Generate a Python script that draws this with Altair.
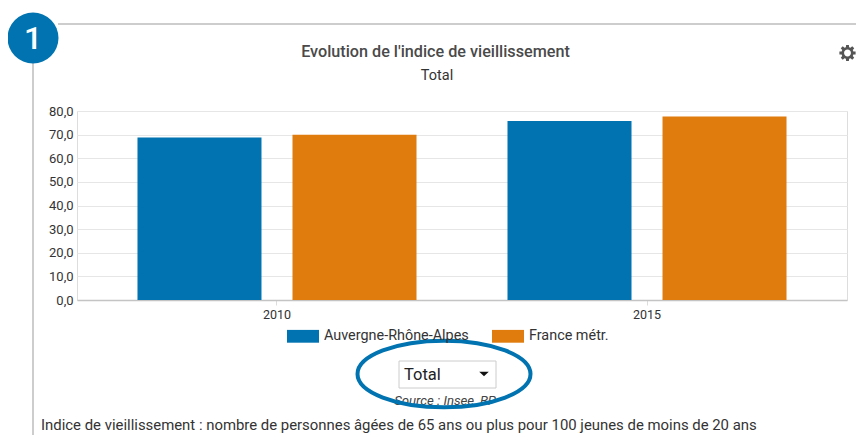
import math
import altair as alt
import pandas as pd

YEARS = ["2010", "2010", "2015", "2015"]
ZONES = ["Auvergne-Rhône-Alpes", "France métr.", "Auvergne-Rhône-Alpes", "France métr."]
VALUES = [68.8, 69.9, 75.8, 77.7]
BLUE = "#0073B0"
ORANGE = "#E07B0E"
FONT = "Roboto"
PL, PT = 77, 111  # plot-area origin in window pixels

df = pd.DataFrame({"annee": YEARS, "zone": ZONES, "valeur": VALUES})
one = pd.DataFrame({"a": [0]})


def px(v):
    return alt.value(v - PL)


def py(v):
    return alt.value(v - PT)


def label(txt, x, y, size=14, color="#333333", align="left", **kw):
    return alt.Chart(one).mark_text(
        text=txt, font=FONT, fontSize=size, color=color, align=align, baseline="middle", **kw
    ).encode(x=px(x), y=py(y))


def hline(x1, x2, y, color="#bdbdbd", w=1.5):
    return alt.Chart(one).mark_rule(color=color, strokeWidth=w).encode(x=px(x1), x2=px(x2), y=py(y))


def vline(x, y1, y2, color="#bdbdbd", w=1.5):
    return alt.Chart(one).mark_rule(color=color, strokeWidth=w).encode(x=px(x), y=py(y1), y2=py(y2))


def gear_path():
    teeth = 8
    pts = []
    for i in range(teeth):
        a = 2 * math.pi * i / teeth
        for da, r in ((-0.27, 0.74), (-0.17, 1.0), (0.17, 1.0), (0.27, 0.74)):
            pts.append((r * math.cos(a + da), r * math.sin(a + da)))
    outer = "M" + "L".join(f"{x:.3f},{y:.3f}" for x, y in pts) + "Z"
    hole = "M0.42,0A0.42,0.42,0,1,0,-0.42,0A0.42,0.42,0,1,0,0.42,0Z"
    return outer + hole


bars = alt.Chart(df).mark_bar().encode(
    x=alt.X(
        "annee:N",
        title=None,
        scale=alt.Scale(paddingInner=0, paddingOuter=0.0405),
        axis=alt.Axis(
            labelAngle=0, labelFont=FONT, labelFontSize=12.5, labelColor="#333333", labelPadding=3,
            domainColor="#c4c4c4", domainWidth=1.5, tickColor="#dddddd", tickSize=5, grid=False,
        ),
    ),
    xOffset=alt.XOffset("zone:N", scale=alt.Scale(paddingInner=0.2, paddingOuter=0.2935)),
    y=alt.Y(
        "valeur:Q",
        title=None,
        scale=alt.Scale(domain=[0, 80], nice=False),
        axis=alt.Axis(
            values=list(range(0, 81, 10)), labelExpr="replace(format(datum.value, '.1f'), '.', ',')",
            labelFont=FONT, labelFontSize=13, labelColor="#333333", labelPadding=4,
            domain=False, ticks=False, gridColor="#e6e6e6", grid=True,
        ),
    ),
    color=alt.Color(
        "zone:N",
        scale=alt.Scale(domain=["Auvergne-Rhône-Alpes", "France métr."], range=[BLUE, ORANGE]),
        legend=alt.Legend(
            title=None, orient="none", legendX=288 - PL - 1, legendY=320 - PT, direction="horizontal",
            columns=2, columnPadding=23, symbolType="M-1,-0.4H1V0.4H-1Z", symbolSize=1024,
            symbolStrokeWidth=0, labelFont=FONT, labelFontSize=14.4, labelColor="#333333",
            labelOffset=5, symbolOpacity=1,
        ),
    ),
)

badge = alt.Chart(one).mark_point(filled=True, color=BLUE, opacity=1, size=2600, shape="circle").encode(
    x=px(33), y=py(38)
)
oval = alt.Chart(one).mark_point(
    shape="M-1,0A1,0.385,0,1,1,1,0A1,0.385,0,1,1,-1,0Z", filled=False, stroke=BLUE, strokeWidth=4,
    opacity=1, size=29929,
).encode(x=px(444), y=py(374))
select_box = alt.Chart(one).mark_rect(fill="white", stroke="#cccccc", strokeWidth=1).encode(
    x=px(399), x2=px(496), y=py(361), y2=py(388)
)
caret = alt.Chart(one).mark_point(
    filled=True, color="#111111", opacity=1, shape="M-1,-0.5H1L0,0.5Z", size=90
).encode(x=px(484), y=py(374))
gear = alt.Chart(one).mark_point(filled=True, color="#555555", opacity=1, shape=gear_path(), size=270).encode(
    x=px(847.5), y=py(53)
)

chart = alt.layer(
    hline(58, 864, 24),
    vline(33, 60, 443),
    bars,
    badge,
    label("1", 33, 39, size=32, color="white", align="center", fontWeight=500),
    gear,
    label("Evolution de l'indice de vieillissement", 435.5, 52, size=16.2, color="#4a4a4a", align="center", fontWeight=500),
    label("Total", 437, 76, size=14.5, align="center"),
    select_box,
    label("Total", 404, 375, size=16.5, color="#222222"),
    caret,
    label("Source : Insee, RP", 445, 401, size=13.2, color="#444444", align="center", fontStyle="italic"),
    oval,
    label(
        "Indice de vieillissement : nombre de personnes âgées de 65 ans ou plus pour 100 jeunes de moins de 20 ans",
        41, 426, size=14.9,
    ),
).properties(
    width=770,
    height=189,
    padding={"left": PL - 8, "top": PT - 8, "right": 9, "bottom": 135},
    autosize=alt.AutoSizeParams(type="none"),
).configure_view(stroke=None).configure(background="white")

chart.save("out.html", embed_options={"renderer": "svg", "actions": False})
